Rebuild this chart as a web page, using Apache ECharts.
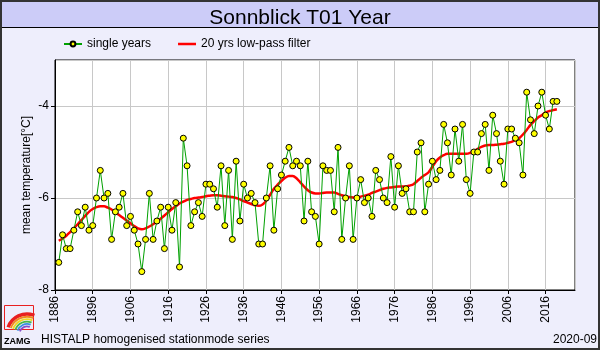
<!DOCTYPE html>
<html>
<head>
<meta charset="utf-8">
<script src="https://cdn.jsdelivr.net/npm/echarts@6/dist/echarts.min.js"></script>
<style>html,body{margin:0;padding:0;background:#eeeefc}#c{width:600px;height:350px}</style>
</head>
<body>
<div id="c"></div>
<script>
const titleText = 'Sonnblick T01 Year';
const seriesNames = ['single years', '20 yrs low-pass filter'];
const yAxisName = 'mean temperature[°C]';
const footerLeft = 'HISTALP homogenised stationmode series';
const footerRight = '2020-09';
const axisStartYear = 1886;

const years = [
  1887,1888,1889,1890,1891,1892,1893,1894,1895,1896,
  1897,1898,1899,1900,1901,1902,1903,1904,1905,1906,
  1907,1908,1909,1910,1911,1912,1913,1914,1915,1916,
  1917,1918,1919,1920,1921,1922,1923,1924,1925,1926,
  1927,1928,1929,1930,1931,1932,1933,1934,1935,1936,
  1937,1938,1939,1940,1941,1942,1943,1944,1945,1946,
  1947,1948,1949,1950,1951,1952,1953,1954,1955,1956,
  1957,1958,1959,1960,1961,1962,1963,1964,1965,1966,
  1967,1968,1969,1970,1971,1972,1973,1974,1975,1976,
  1977,1978,1979,1980,1981,1982,1983,1984,1985,1986,
  1987,1988,1989,1990,1991,1992,1993,1994,1995,1996,
  1997,1998,1999,2000,2001,2002,2003,2004,2005,2006,
  2007,2008,2009,2010,2011,2012,2013,2014,2015,2016,
  2017,2018,2019
];

const singleYears = [
  -7.4,-6.8,-7.1,-7.1,-6.7,-6.3,-6.6,-6.2,-6.7,-6.6,
  -6.0,-5.4,-6.0,-5.9,-6.9,-6.3,-6.2,-5.9,-6.6,-6.4,
  -6.7,-7.0,-7.6,-6.9,-5.9,-6.9,-6.5,-6.2,-7.1,-6.2,
  -6.7,-6.1,-7.5,-4.7,-5.3,-6.6,-6.3,-6.1,-6.4,-5.7,
  -5.7,-5.8,-6.2,-5.3,-6.6,-5.4,-6.9,-5.2,-6.5,-5.7,
  -6.0,-5.9,-6.1,-7.0,-7.0,-6.0,-5.3,-6.7,-5.8,-5.5,
  -5.2,-4.9,-5.3,-5.2,-5.3,-6.5,-5.2,-6.3,-6.4,-7.0,
  -5.3,-5.4,-5.4,-6.3,-4.9,-6.9,-6.0,-5.3,-6.9,-6.0,
  -5.6,-6.1,-6.0,-6.4,-5.4,-5.6,-6.0,-6.1,-5.1,-6.2,
  -5.3,-5.9,-5.8,-6.3,-6.3,-5.0,-4.8,-6.3,-5.7,-5.2,
  -5.6,-5.4,-4.4,-4.8,-5.5,-4.5,-5.2,-4.4,-5.6,-5.9,
  -5.0,-5.0,-4.6,-4.4,-5.4,-4.2,-4.6,-5.2,-5.7,-4.5,
  -4.5,-4.7,-4.8,-5.5,-3.7,-4.3,-4.6,-4.0,-3.7,-4.2,
  -4.5,-3.9,-3.9
];

const lowPass = [
  -6.93,-6.88,-6.82,-6.74,-6.66,-6.57,-6.48,-6.39,-6.30,-6.24,
  -6.20,-6.18,-6.18,-6.21,-6.25,-6.31,-6.37,-6.43,-6.49,-6.55,
  -6.61,-6.66,-6.68,-6.66,-6.62,-6.57,-6.51,-6.45,-6.38,-6.31,
  -6.24,-6.18,-6.12,-6.08,-6.04,-6.02,-6.00,-5.99,-5.98,-5.96,
  -5.95,-5.94,-5.94,-5.95,-5.96,-5.97,-5.98,-6.00,-6.03,-6.07,
  -6.10,-6.13,-6.16,-6.17,-6.14,-6.06,-5.93,-5.80,-5.71,-5.63,
  -5.56,-5.52,-5.52,-5.57,-5.66,-5.75,-5.83,-5.88,-5.90,-5.90,
  -5.89,-5.88,-5.88,-5.88,-5.91,-5.94,-5.96,-5.98,-5.99,-5.99,
  -5.97,-5.95,-5.93,-5.89,-5.86,-5.83,-5.80,-5.78,-5.77,-5.76,
  -5.75,-5.75,-5.75,-5.73,-5.70,-5.63,-5.56,-5.50,-5.44,-5.32,
  -5.20,-5.12,-5.07,-5.04,-5.04,-5.04,-5.04,-5.04,-5.04,-5.02,
  -4.98,-4.93,-4.89,-4.86,-4.85,-4.85,-4.84,-4.83,-4.82,-4.80,
  -4.78,-4.74,-4.70,-4.62,-4.52,-4.41,-4.33,-4.25,-4.20,-4.14,
  -4.11,-4.09,-4.07
];

const FONT = '"Liberation Sans", Arial, sans-serif';
const chart = echarts.init(document.getElementById('c'), null, {renderer: 'canvas'});

const toPairs = arr => arr.map((v, i) => [years[i] - axisStartYear, v]);

const rainbow = ['#e82020', '#f08a20', '#f0d820', '#48b848', '#3a8ee0', '#8a4cc8'];
const logoRadii = [20, 17.2, 14.8, 12.4, 10, 7.6];
const logoArcs = rainbow.map((c, i) => ({
  type: 'arc',
  shape: {cx: 27, cy: 334, r: logoRadii[i], startAngle: Math.PI * 1.11, endAngle: Math.PI * 1.62, clockwise: true},
  style: {fill: null, stroke: c, lineWidth: i === 0 ? 3.5 : 1.8},
  z: 10
}));

chart.setOption({
  backgroundColor: '#eeeefc',
  animation: false,
  textStyle: {fontFamily: FONT},
  title: {
    text: titleText,
    left: 'center',
    top: 3,
    textStyle: {fontFamily: FONT, fontSize: 21, fontWeight: 'normal', color: '#000'}
  },
  legend: {
    data: [
      {name: seriesNames[0]},
      {name: seriesNames[1], icon: 'path://M0,0L36,0L36,5L0,5Z', itemStyle: {color: '#ff0000', borderWidth: 0}}
    ],
    left: 63,
    top: 38,
    padding: 0,
    itemWidth: 18,
    itemHeight: 6,
    itemGap: 27,
    symbolKeepAspect: true,
    textStyle: {fontFamily: FONT, fontSize: 12, color: '#000'}
  },
  grid: {
    left: 55, right: 25, top: 60, bottom: 60,
    show: true, backgroundColor: '#ffffff', borderColor: '#000', borderWidth: 1,
    containLabel: false
  },
  xAxis: {
    type: 'value',
    min: 0,
    max: 137.8,
    interval: 10,
    axisLine: {show: true, lineStyle: {color: '#000', width: 1}},
    axisTick: {show: true, length: 4, lineStyle: {color: '#000'}},
    splitLine: {show: true, lineStyle: {color: '#c8c8c8', width: 1}},
    axisLabel: {
      rotate: 90, margin: 6, fontFamily: FONT, fontSize: 12, color: '#000',
      showMaxLabel: false,
      formatter: v => (Math.abs(v % 10) < 1e-6 ? String(Math.round(v) + axisStartYear) : '')
    }
  },
  yAxis: {
    type: 'value',
    min: -8,
    max: -3,
    interval: 2,
    name: yAxisName,
    nameLocation: 'middle',
    nameGap: 22,
    nameMoveOverlap: false,
    nameRotate: 90,
    nameTextStyle: {fontFamily: FONT, fontSize: 12, color: '#000'},
    axisLine: {show: true, lineStyle: {color: '#000', width: 1}},
    axisTick: {show: true, length: 4, lineStyle: {color: '#000'}},
    splitLine: {show: true, lineStyle: {color: '#c8c8c8', width: 1}},
    axisLabel: {
      margin: 6, fontFamily: FONT, fontSize: 12, color: '#000', showMaxLabel: false,
      formatter: v => (Math.abs(v % 2) < 1e-6 ? String(v) : '')
    }
  },
  series: [
    {
      name: seriesNames[0],
      type: 'line',
      data: toPairs(singleYears),
      symbol: 'circle',
      symbolSize: 6,
      showSymbol: true,
      lineStyle: {color: '#00a000', width: 1},
      itemStyle: {color: '#ffff00', borderColor: '#000', borderWidth: 1},
      z: 4
    },
    {
      name: seriesNames[1],
      type: 'line',
      data: toPairs(lowPass),
      symbol: 'none',
      smooth: 0.3,
      lineStyle: {color: '#ff0000', width: 2.5},
      itemStyle: {color: '#ff0000'},
      z: 3
    }
  ],
  graphic: [
    {type: 'rect', shape: {x: 0, y: 0, width: 600, height: 27}, style: {fill: '#ccccf8'}, z: -10, silent: true},
    {type: 'line', shape: {x1: 0, y1: 27.5, x2: 600, y2: 27.5}, style: {stroke: '#000', lineWidth: 1}, z: 5},
    {type: 'rect', shape: {x: 1, y: 1, width: 598, height: 348}, style: {fill: null, stroke: '#333', lineWidth: 2}, z: 20},
    {type: 'rect', shape: {x: 4.5, y: 305.5, width: 29, height: 24}, style: {fill: null, stroke: '#e82020', lineWidth: 1}, z: 10},
    ...logoArcs,
    {type: 'text', left: 4, top: 337, style: {text: 'ZAMG', font: 'bold 9px ' + FONT, fill: '#000'}, z: 10},
    {type: 'text', left: 41, top: 334, style: {text: footerLeft, font: '12px ' + FONT, fill: '#000'}, z: 10},
    {type: 'text', right: 3, top: 334, style: {text: footerRight, font: '12px ' + FONT, fill: '#000', align: 'right'}, z: 10}
  ]
});
</script>
</body>
</html>
